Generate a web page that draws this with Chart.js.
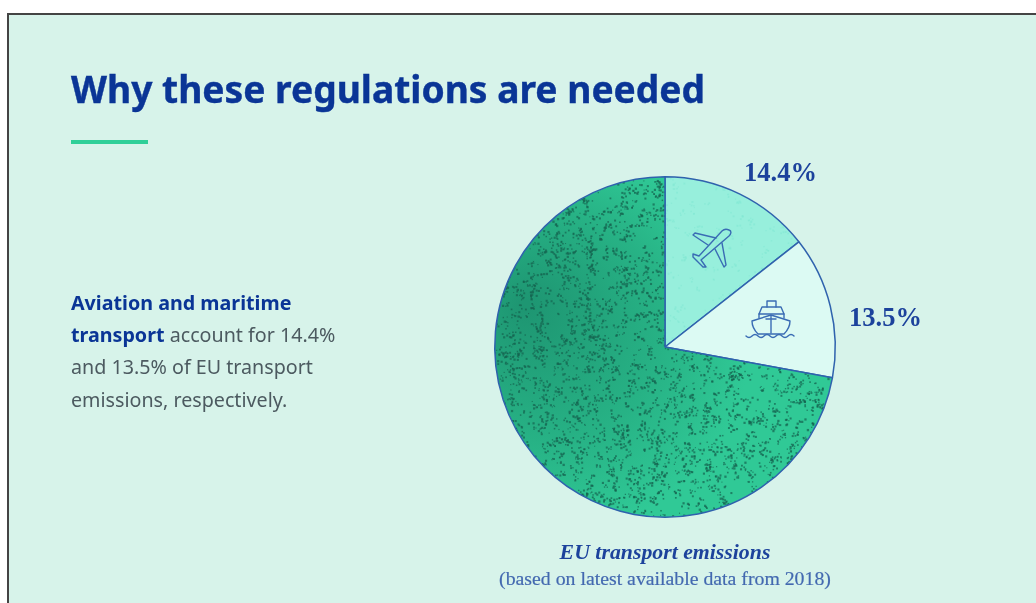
<!DOCTYPE html>
<html>
<head>
<meta charset="utf-8">
<title>Why these regulations are needed</title>
<script src="https://cdn.jsdelivr.net/npm/chart.js@4"></script>
<style>
  html, body { margin: 0; padding: 0; background: #fff; }
  #page { position: relative; width: 1036px; height: 603px; overflow: hidden; filter: blur(0.5px); }
  #panel { position: absolute; left: 7px; top: 13px; width: 1040px; height: 610px; background: #d7f3ea;
           border-left: 2px solid #444; border-top: 2px solid #444; box-sizing: border-box; }
  canvas { position: absolute; left: 0; top: 0; }
  #title { position: absolute; left: 71px; top: 63px; margin: 0; font: 700 37.2px "Noto Sans", sans-serif; color: #0a3596; white-space: nowrap; -webkit-text-stroke: 0.4px #0a3596; }
  #rule { position: absolute; left: 71px; top: 140px; width: 77px; height: 4px; background: #2fcf98; }
  #note { position: absolute; left: 71px; top: 287px; width: 300px; font: 19.7px/32.2px "Noto Sans", sans-serif; color: #4c5a60; }
  #note b { color: #0a3596; }
  .pct { position: absolute; font: 700 26.5px "Liberation Serif", serif; color: #1c429c; white-space: nowrap; }
  #cap1 { position: absolute; left: 465px; width: 400px; top: 540px; text-align: center; font: italic 700 21.8px "Liberation Serif", serif; color: #1c429c; }
  #cap2 { position: absolute; left: 465px; width: 400px; top: 567px; text-align: center; font: 19.8px "Liberation Serif", serif; color: #4369b0; white-space: nowrap; -webkit-text-stroke: 0.2px #4369b0; }
  svg { position: absolute; left: 0; top: 0; pointer-events: none; }
</style>
</head>
<body>
<div id="page">
  <div id="panel"></div>
  <canvas id="pie" width="1036" height="603"></canvas>
  <svg width="1036" height="603" fill="none" stroke="#3a6cb4" stroke-width="1.4" stroke-linejoin="round" stroke-linecap="round">
    <!-- plane -->
    <path d="M729 230 C732 231 731 234 729 236 L701 260 L706 267 L703 267 L697 261 L693 257 L693 254 L699 256 L722 231 C724 229 727 229 729 230 Z" />
    <path d="M708 245 L693 235 L695 233 L716 238" />
    <path d="M715 249 L724 267 L726 265 L722 243" />
    <!-- ship -->
    <path d="M767 307 V301 H776 V307" />
    <path d="M762 307 H781 L784 314 H759 Z" />
    <path d="M759 314 V318 M784 314 V318" />
    <path d="M752 321 L771 315 L790 321 C790 326 787 331 784 334 H758 C755 331 752 326 752 321 Z" />
    <path d="M771 316 V333 M766 319 H776" />
    <path d="M746 336 q3 3 6 0 t6 0 t6 0 t6 0 t6 0 t6 0 t6 0 t6 0" />
  </svg>
  <h1 id="title">Why these regulations are needed</h1>
  <div id="rule"></div>
  <div id="note"><b>Aviation and maritime<br>transport</b> account for 14.4%<br>and 13.5% of EU transport<br>emissions, respectively.</div>
  <div class="pct" id="pct0" style="left:744px;top:157px"></div>
  <div class="pct" id="pct1" style="left:849px;top:302px"></div>
  <div id="cap1">EU transport emissions</div>
  <div id="cap2">(based on latest available data from 2018)</div>
</div>
<script>
const categories = ["Aviation", "Maritime", "Other transport"];
const shares = [14.4, 13.5, 72.1];

// small seeded generator, only for the speckle texture
let seed = 12345;
function next() {
  seed = (seed * 1664525 + 1013904223) % 4294967296;
  return seed / 4294967296;
}

function speckle(paintBase, speckColor, count, maxSize) {
  const c = document.createElement("canvas");
  c.width = 1036;
  c.height = 603;
  const g = c.getContext("2d");
  paintBase(g);
  g.fillStyle = speckColor;
  for (let i = 0; i < count; i++) {
    const x = 490 + next() * 350;
    const y = 175 + next() * 345;
    const n = 1 + Math.floor(next() * 4);
    for (let k = 0; k < n; k++) {
      const s = 1 + next() * maxSize;
      g.fillRect(x + next() * 6 - 3, y + next() * 6 - 3, s, s);
    }
  }
  return g.createPattern(c, "no-repeat");
}

const ctx = document.getElementById("pie").getContext("2d");

const darkFill = speckle((g) => {
  const grad = g.createRadialGradient(525, 305, 5, 560, 340, 190);
  grad.addColorStop(0, "#1e9672");
  grad.addColorStop(0.6, "#27b285");
  grad.addColorStop(1, "#30c996");
  g.fillStyle = grad;
  g.fillRect(0, 0, 1036, 603);
}, "rgba(22,100,80,0.7)", 2700, 1.3);

const midFill = speckle((g) => {
  g.fillStyle = "#97efdc";
  g.fillRect(0, 0, 1036, 603);
}, "rgba(130,232,212,0.6)", 900, 1);

new Chart(ctx, {
  type: "pie",
  data: {
    labels: categories,
    datasets: [
      {
        data: shares,
        backgroundColor: [midFill, "#dcfaf3", darkFill],
        borderColor: "#2f62ad",
        borderWidth: 1.5,
      },
    ],
  },
  options: {
    responsive: false,
    animation: false,
    layout: { padding: { left: 494, right: 200, top: 176, bottom: 85 } },
    plugins: { legend: { display: false }, tooltip: { enabled: false } },
  },
});

document.getElementById("pct0").textContent = shares[0] + "%";
document.getElementById("pct1").textContent = shares[1] + "%";
</script>
</body>
</html>
